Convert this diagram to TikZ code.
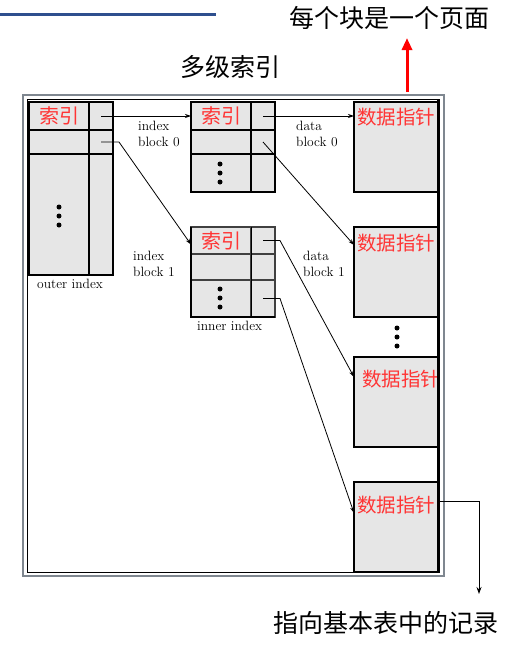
\documentclass[tikz,border=0pt]{standalone}
\usepackage{fontspec}
\newfontfamily\cjk{Noto Sans CJK SC}
\usetikzlibrary{arrows.meta,calc}
\definecolor{cellgray}{HTML}{E6E6E6}
\definecolor{framegray}{HTML}{7F8790}
\definecolor{topblue}{HTML}{2E4F8E}
\definecolor{redtxt}{HTML}{FF3535}
\begin{document}
\begin{tikzpicture}[x=1pt,y=-1pt,
  cell/.style={draw, fill=cellgray, line width=1.3pt, anchor=north west, inner sep=0pt, outer sep=0pt},
  dblock/.style={draw, fill=cellgray, line width=1.1pt, anchor=north west, inner sep=0pt, outer sep=0pt, minimum width=84pt, minimum height=90pt},
  redlbl/.style={text=redtxt, font=\cjk\fontsize{20}{22}\selectfont, inner sep=0pt},
  datalbl/.style={text=redtxt, font=\cjk\fontsize{19.5}{22}\selectfont, inner sep=0pt, anchor=west},
  enlbl/.style={font=\fontsize{13.5}{16}\selectfont, align=left, inner sep=0pt, anchor=north west},
  bigtxt/.style={font=\cjk\fontsize{25}{28}\selectfont, inner sep=0pt},
  conn/.style={-{Stealth[length=6pt,width=4pt]}, line width=0.8pt},
  dotmark/.style={fill=black, draw=none, circle, minimum size=5pt, inner sep=0pt}
]
\useasboundingbox (0,0) rectangle (518,645);

% top decoration
\draw[topblue, line width=3pt] (0,14) -- (216,14);
\node[bigtxt] (title) at (389,18) {每个块是一个页面};
\node[bigtxt] (multi) at (230,67) {多级索引};
\coordinate (redbase) at (407,92);
\coordinate (redtip) at (407,38);
\draw[red, line width=3pt, -{Triangle[length=12pt,width=10pt]}] (redbase) -- (redtip);

% frame
\draw[framegray, line width=1.4pt] (23,95) rectangle (444,576);
\draw[black, line width=0.9pt] (27,99) rectangle (439,572);

% outer index
\node[cell, minimum width=60pt, minimum height=28pt] (o1L) at (29,102) {};
\node[cell, minimum width=24pt, minimum height=28pt] (o1R) at (89,102) {};
\node[cell, minimum width=60pt, minimum height=24pt] (o2L) at (29,130) {};
\node[cell, minimum width=24pt, minimum height=24pt] (o2R) at (89,130) {};
\node[cell, minimum width=60pt, minimum height=121pt] (o3L) at (29,154) {};
\node[cell, minimum width=24pt, minimum height=121pt] (o3R) at (89,154) {};
\node[redlbl] (o1t) at (o1L.center) {索引};
\node[dotmark] (od1) at (59,207) {};
\node[dotmark] (od2) at (59,216) {};
\node[dotmark] (od3) at (59,225) {};
\node[enlbl] (outerlbl) at (37,279) {outer index};

% index block 0
\node[cell, minimum width=60pt, minimum height=28pt] (a1L) at (191,102) {};
\node[cell, minimum width=24pt, minimum height=28pt] (a1R) at (251,102) {};
\node[cell, minimum width=60pt, minimum height=24pt] (a2L) at (191,130) {};
\node[cell, minimum width=24pt, minimum height=24pt] (a2R) at (251,130) {};
\node[cell, minimum width=60pt, minimum height=38pt] (a3L) at (191,154) {};
\node[cell, minimum width=24pt, minimum height=38pt] (a3R) at (251,154) {};
\node[redlbl] (a1t) at (a1L.center) {索引};
\node[dotmark] (ad1) at (220,164) {};
\node[dotmark] (ad2) at (220,173) {};
\node[dotmark] (ad3) at (220,182) {};

% index block 1
\begin{scope}[every node/.append style={draw=black!75}]
\node[cell, minimum width=60pt, minimum height=27pt] (b1L) at (191,227) {};
\node[cell, minimum width=24pt, minimum height=27pt] (b1R) at (251,227) {};
\node[cell, minimum width=60pt, minimum height=26pt] (b2L) at (191,254) {};
\node[cell, minimum width=24pt, minimum height=26pt] (b2R) at (251,254) {};
\node[cell, minimum width=60pt, minimum height=37pt] (b3L) at (191,280) {};
\node[cell, minimum width=24pt, minimum height=37pt] (b3R) at (251,280) {};
\end{scope}
\draw[black, line width=1.3pt] (b1L.north west) -- (b3L.south west) -- (b3R.south east);
\draw[black, line width=0.8pt] (b1R.north west) -- (b3R.south west);
\node[redlbl] (b1t) at (b1L.center) {索引};
\node[dotmark] (bd1) at (220,289) {};
\node[dotmark] (bd2) at (220,298) {};
\node[dotmark] (bd3) at (220,307) {};
\node[enlbl] (innerlbl) at (197,321) {inner index};

% labels
\node[enlbl] (ib0) at (138,121) {index\\block 0};
\node[enlbl] (ib1) at (133,251) {index\\block 1};
\node[enlbl] (db0) at (296,121) {data\\block 0};
\node[enlbl] (db1) at (303,251) {data\\block 1};

% data blocks
\node[dblock] (d0) at (354,102) {};
\node[dblock] (d1) at (354,227) {};
\node[dblock] (d2) at (354,357) {};
\node[dblock] (d3) at (354,482) {};
\node[datalbl] (t0) at (357,117) {数据指针};
\node[datalbl] (t1) at (357,243) {数据指针};
\node[datalbl] (t2) at (362,379) {数据指针};
\node[datalbl] (t3) at (357,505) {数据指针};
\node[dotmark] (dd1) at (397,328) {};
\node[dotmark] (dd2) at (397,337) {};
\node[dotmark] (dd3) at (397,346) {};
\draw[black, line width=2.5pt] (438.5,99) -- (438.5,572);

% connectors
\draw[conn] (o1R.center) -- (a1L.west);
\draw[conn] (o2R.center) -- ++(18,0) -- ([yshift=-4pt]b1L.west);
\draw[conn] (a1R.center) -- (d0.west |- a1R.center);
\draw[conn] (a2R.center) -- ([yshift=-18pt]d1.north west);
\draw[conn] (b1R.center) -- ++(17,0) -- ([yshift=-20pt]d2.north west);
\draw[conn] (b3R.center) -- ++(17,0) -- ([yshift=-31pt]d3.north west);
\coordinate (recstart) at ([yshift=-19pt]d3.north east);
\coordinate (recend) at (479,594);
\draw[-{Stealth[length=7pt,width=5pt]}, line width=1pt] (recstart) -- (recend |- recstart) -- (recend);
\node[bigtxt] (reclbl) at (386,623) {指向基本表中的记录};
\end{tikzpicture}
\end{document}
